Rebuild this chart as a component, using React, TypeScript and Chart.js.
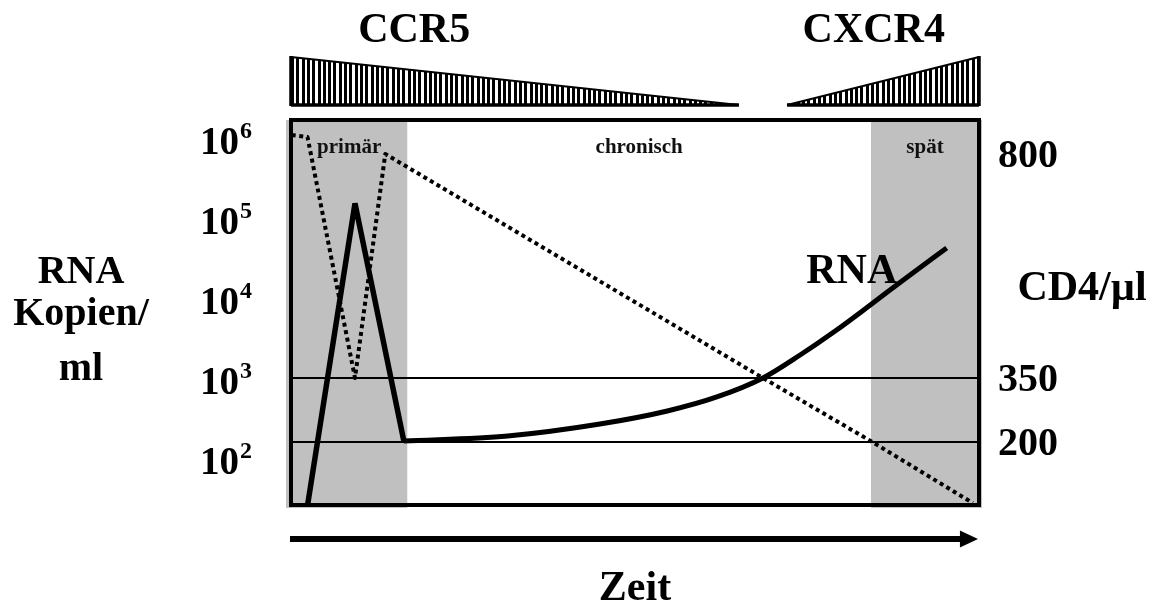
import React, { useEffect, useRef } from 'react';
import { Chart, LinearScale, registerables } from 'chart.js';

const FONT = '"Liberation Serif", "Times New Roman", Times, serif';

// ---------- data (time in arbitrary units 0..100) ----------
const timeRange = [0, 100];

// RNA copies / ml, primary infection spike
const rnaSpikeTime = [2.4, 9.3, 16.4];
const rnaSpikeCopies = [25, 150000, 160];
// RNA copies / ml, chronic + late phase
const rnaChronicTime = [16.4, 31.5, 44.9, 54.7, 61.9, 68.6, 74.0, 79.1, 84.2, 89.2, 95.3];
const rnaChronicCopies = [160, 185, 261, 380, 569, 983, 1905, 3800, 8035, 16980, 41450];

// CD4 cells / µl
const cd4Time = [0.1, 2.4, 9.3, 13.7, 68.6, 84.5, 99.1];
const cd4Counts = [838, 834, 350, 800, 350, 200, 57];

// axes
const rnaRange = [25.4, 1.65e6];
const rnaTickExponents = [2, 3, 4, 5, 6];
const cd4Ticks = [200, 350, 800];
// CD4 axis is schematic (not linear): value stops and their fraction of the plot height
const cd4ScaleValues = [200, 350, 800];
const cd4ScaleFractions = [0.1636, 0.3299, 0.9117];

// phases
const phaseNames = ['primär', 'chronisch', 'spät'];
const phaseStart = [0, 16.9, 84.3];
const phaseEnd = [16.9, 84.3, 100];
const phaseShaded = [true, false, true];

// co-receptor wedges
const coreceptorNames = ['CCR5', 'CXCR4'];
const coreceptorStart = [0, 72.1];
const coreceptorEnd = [65.1, 100];
const coreceptorRising = [false, true];
const coreceptorLabelAt = [17.9, 84.7];

const rnaAxisTitle = ['RNA', 'Kopien/', 'ml'];
const cd4AxisTitle = 'CD4/µl';
const rnaSeriesLabel = 'RNA';
const rnaSeriesLabelAt = [81.5, 15100];
const timeTitle = 'Zeit';

function interp(v: number, xs: number[], ys: number[]): number {
  let i = 0;
  if (v <= xs[0]) i = 0;
  else if (v >= xs[xs.length - 1]) i = xs.length - 2;
  else {
    while (v > xs[i + 1]) i++;
  }
  const t = (v - xs[i]) / (xs[i + 1] - xs[i]);
  return ys[i] + t * (ys[i + 1] - ys[i]);
}

class PiecewiseScale extends LinearScale {
  static id = 'piecewise';
  static defaults = { ticks: { callback: (v: number) => String(v) } };
  getPixelForValue(value: number) {
    if (value === null || value === undefined || Number.isNaN(value)) return NaN;
    return (this as any).getPixelForDecimal(interp(value, cd4ScaleValues, cd4ScaleFractions));
  }
  getValueForPixel(pixel: number) {
    return interp((this as any).getDecimalForPixel(pixel), cd4ScaleFractions, cd4ScaleValues);
  }
}

Chart.register(...registerables, PiecewiseScale as any);

const font = (size: number) => `bold ${size}px ${FONT}`;

const decorPlugin = {
  id: 'decor',
  beforeDraw(chart: any) {
    const { ctx, chartArea: a } = chart;
    const x = chart.scales.x;
    ctx.save();
    ctx.fillStyle = '#fff';
    ctx.fillRect(0, 0, chart.width, chart.height);
    ctx.fillStyle = '#c0c0c0';
    phaseStart.forEach((s, i) => {
      if (!phaseShaded[i]) return;
      let l = x.getPixelForValue(s);
      let r = x.getPixelForValue(phaseEnd[i]);
      if (s === timeRange[0]) l -= 5;
      if (phaseEnd[i] === timeRange[1]) r += 3;
      ctx.fillRect(l, a.top, r - l, a.bottom - a.top + 3);
    });
    ctx.restore();
  },
  beforeDatasetsDraw(chart: any) {
    const { ctx, chartArea: a } = chart;
    const x = chart.scales.x;
    ctx.save();
    ctx.fillStyle = '#111';
    ctx.font = font(21);
    ctx.textAlign = 'center';
    ctx.textBaseline = 'alphabetic';
    phaseNames.forEach((n, i) => {
      const cx = x.getPixelForValue((phaseStart[i] + phaseEnd[i]) / 2);
      ctx.fillText(n, cx, a.top + 33);
    });
    ctx.restore();
  },
  afterDraw(chart: any) {
    const { ctx, chartArea: a } = chart;
    const x = chart.scales.x;
    const yR = chart.scales.yRna;
    ctx.save();
    // plot frame
    ctx.strokeStyle = '#000';
    ctx.lineWidth = 4;
    ctx.strokeRect(a.left, a.top, a.right - a.left, a.bottom - a.top);

    // co-receptor wedges
    coreceptorNames.forEach((name, i) => {
      const xl = x.getPixelForValue(coreceptorStart[i]);
      const xr = x.getPixelForValue(coreceptorEnd[i]);
      const top = a.top - 63;
      const bot = a.top - 15;
      const rising = coreceptorRising[i];
      ctx.save();
      ctx.beginPath();
      if (rising) {
        ctx.moveTo(xl, bot); ctx.lineTo(xr, top); ctx.lineTo(xr, bot);
      } else {
        ctx.moveTo(xl, top); ctx.lineTo(xr, bot); ctx.lineTo(xl, bot);
      }
      ctx.closePath();
      ctx.clip();
      ctx.fillStyle = '#000';
      const pitch = 5.3;
      for (let k = 0; ; k++) {
        const sx = rising ? xr - 2 - k * pitch : xl + k * pitch;
        if (rising ? sx < xl - 3 : sx > xr) break;
        ctx.fillRect(Math.round(sx), top, 3, bot - top);
      }
      ctx.restore();
      ctx.save();
      ctx.strokeStyle = '#000';
      ctx.lineWidth = 2;
      ctx.beginPath();
      if (rising) { ctx.moveTo(xl, bot); ctx.lineTo(xr, top); }
      else { ctx.moveTo(xl, top); ctx.lineTo(xr, bot); }
      ctx.stroke();
      ctx.lineWidth = 3.5;
      ctx.beginPath();
      ctx.moveTo(xl, bot); ctx.lineTo(xr, bot);
      ctx.stroke();
      const vx = rising ? xr : xl;
      ctx.beginPath();
      ctx.moveTo(vx, top - 1); ctx.lineTo(vx, bot + 1);
      ctx.stroke();
      ctx.restore();
      // title
      ctx.fillStyle = '#000';
      ctx.font = font(42);
      ctx.textAlign = 'center';
      ctx.textBaseline = 'alphabetic';
      ctx.fillText(name, x.getPixelForValue(coreceptorLabelAt[i]), a.top - 78);
    });

    // left (log) axis labels 10^n
    ctx.fillStyle = '#000';
    ctx.textAlign = 'left';
    ctx.textBaseline = 'alphabetic';
    rnaTickExponents.forEach((e) => {
      const p = yR.getPixelForValue(Math.pow(10, e));
      const lx = a.left - 91;
      ctx.font = font(39);
      ctx.fillText('10', lx, p + 17);
      const w = ctx.measureText('10').width;
      ctx.font = font(24);
      ctx.fillText(String(e), lx + w + 1, p + 1);
    });

    // left axis title
    ctx.font = font(40);
    ctx.textAlign = 'center';
    const titleBase = [283, 325, 380];
    rnaAxisTitle.forEach((t, i) => ctx.fillText(t, 81, titleBase[i]));

    // right axis title
    ctx.font = font(42);
    ctx.fillText(cd4AxisTitle, 1082, 300);

    // series label
    ctx.fillText(rnaSeriesLabel, x.getPixelForValue(rnaSeriesLabelAt[0]), yR.getPixelForValue(rnaSeriesLabelAt[1]));

    // time arrow
    const ay = a.bottom + 34;
    const x0 = x.getPixelForValue(timeRange[0]) - 1;
    const tip = x.getPixelForValue(99.85);
    ctx.lineWidth = 6;
    ctx.lineCap = 'butt';
    ctx.beginPath();
    ctx.moveTo(x0, ay);
    ctx.lineTo(tip - 14, ay);
    ctx.stroke();
    ctx.beginPath();
    ctx.moveTo(tip, ay);
    ctx.lineTo(tip - 18, ay - 8.5);
    ctx.lineTo(tip - 18, ay + 8.5);
    ctx.closePath();
    ctx.fill();
    ctx.restore();
  },
};

export default function App() {
  const ref = useRef<HTMLCanvasElement>(null);
  useEffect(() => {
    const canvas = ref.current;
    if (!canvas) return;
    const chart = new Chart(canvas, {
      type: 'line',
      data: {
        datasets: [
          {
            label: 'RNA primär',
            data: rnaSpikeTime.map((t, i) => ({ x: t, y: rnaSpikeCopies[i] })),
            yAxisID: 'yRna',
            borderColor: '#000',
            borderWidth: 5.5,
            borderJoinStyle: 'bevel',
            pointRadius: 0,
            tension: 0,
          },
          {
            label: 'RNA',
            data: rnaChronicTime.map((t, i) => ({ x: t, y: rnaChronicCopies[i] })),
            yAxisID: 'yRna',
            borderColor: '#000',
            borderWidth: 5,
            pointRadius: 0,
            cubicInterpolationMode: 'monotone',
          },
          {
            label: 'CD4',
            data: cd4Time.map((t, i) => ({ x: t, y: cd4Counts[i] })),
            yAxisID: 'yCd4',
            borderColor: '#000',
            borderWidth: 4,
            borderDash: [4, 3.6],
            borderCapStyle: 'butt',
            borderJoinStyle: 'round',
            pointRadius: 0,
            tension: 0,
          },
        ],
      } as any,
      options: {
        responsive: false,
        animation: false,
        events: [],
        layout: { padding: { top: 120, left: 0, right: 0, bottom: 0 } },
        plugins: { legend: { display: false }, tooltip: { enabled: false } },
        scales: {
          x: {
            type: 'linear',
            position: 'bottom',
            min: timeRange[0],
            max: timeRange[1],
            ticks: { display: false },
            grid: { display: false },
            border: { display: false },
            title: {
              display: true,
              text: timeTitle,
              color: '#000',
              font: { family: FONT, size: 42, weight: 'bold', lineHeight: 0.9 },
              padding: 0,
            },
            afterFit: (s: any) => { s.height = 103; },
          },
          yRna: {
            type: 'logarithmic',
            position: 'left',
            min: rnaRange[0],
            max: rnaRange[1],
            bounds: 'data',
            afterBuildTicks: (s: any) => { s.ticks = rnaTickExponents.map((e) => ({ value: Math.pow(10, e) })); },
            ticks: { display: false },
            grid: { display: false },
            border: { display: false },
            afterFit: (s: any) => { s.width = 291; },
          },
          yCd4: {
            type: 'piecewise',
            position: 'right',
            min: 0,
            max: 1000,
            afterBuildTicks: (s: any) => { s.ticks = cd4Ticks.map((v) => ({ value: v })); },
            ticks: {
              display: true,
              autoSkip: false,
              color: '#000',
              padding: 19,
              labelOffset: 3,
              font: { family: FONT, size: 40, weight: 'bold' },
              callback: (v: any) => String(v),
            },
            grid: {
              display: true,
              drawOnChartArea: true,
              drawTicks: false,
              lineWidth: 2,
              color: (c: any) => (c.tick && c.tick.value === 800 ? 'rgba(0,0,0,0)' : '#000'),
            },
            border: { display: false },
            afterFit: (s: any) => { s.width = 174; },
          },
        },
      } as any,
      plugins: [decorPlugin],
    });
    return () => chart.destroy();
  }, []);
  return (
    <div style={{ position: 'fixed', left: 0, top: 0, width: 1153, height: 608, background: '#fff' }}>
      <canvas ref={ref} width={1153} height={608} style={{ display: 'block' }} />
    </div>
  );
}
